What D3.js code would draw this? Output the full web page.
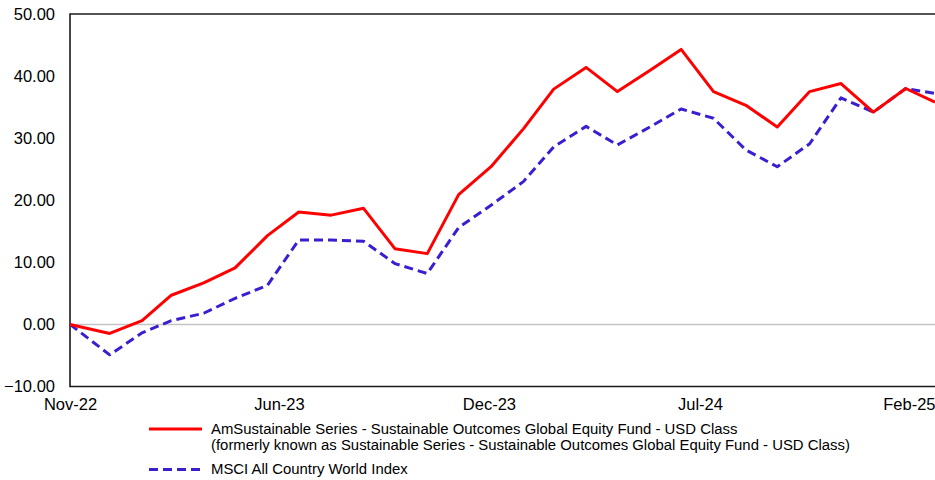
<!DOCTYPE html>
<html>
<head>
<meta charset="utf-8">
<script src="https://cdn.jsdelivr.net/npm/d3@7"></script>
<style>
  body { margin: 0; background: #fff; }
  svg { display: block; font-family: "Liberation Sans", Arial, sans-serif; }
</style>
</head>
<body>
<div id="chart"></div>
<script>
// Inception date, then month-end dates
const dates = [
  '2022-11-23', '2022-12-31', '2023-01-31', '2023-02-28', '2023-03-31', '2023-04-30',
  '2023-05-31', '2023-06-30', '2023-07-31', '2023-08-31', '2023-09-30', '2023-10-31',
  '2023-11-30', '2023-12-31', '2024-01-31', '2024-02-29', '2024-03-31', '2024-04-30',
  '2024-05-31', '2024-06-30', '2024-07-31', '2024-08-31', '2024-09-30', '2024-10-31',
  '2024-11-30', '2024-12-31', '2025-01-31', '2025-02-28'
];

// Cumulative performance (%)
const fundValues = [
  0, -1.45, 0.6, 4.7, 6.7, 9.1, 14.3, 18.1, 17.6, 18.7, 12.2, 11.4, 20.9, 25.4,
  31.5, 37.9, 41.4, 37.5, 40.9, 44.3, 37.5, 35.3, 31.8, 37.5, 38.8, 34.2, 38.0, 35.8
];
const indexValues = [
  0, -4.9, -1.35, 0.6, 1.8, 4.2, 6.3, 13.6, 13.6, 13.4, 9.8, 8.2, 15.6, 19.2,
  23.0, 28.6, 31.9, 28.9, 31.8, 34.7, 33.2, 28.1, 25.4, 29.1, 36.5, 34.2, 38.0, 37.2
];

const yTicks = [-10, 0, 10, 20, 30, 40, 50];
const xTickDates = ['2022-11-23', '2023-06-11', '2023-12-29', '2024-07-18', '2025-02-03'];

const fundLabel = [
  'AmSustainable Series - Sustainable Outcomes Global Equity Fund - USD Class',
  '(formerly known as Sustainable Series - Sustainable Outcomes Global Equity Fund - USD Class)'
];
const indexLabel = 'MSCI All Country World Index';

const width = 935, height = 480;
const margin = { top: 14, right: 0, bottom: 94, left: 70 };

const parseDate = d3.timeParse('%Y-%m-%d');
const formatTick = d3.timeFormat('%b-%y');

const svg = d3.select('#chart')
  .append('svg')
  .attr('width', width)
  .attr('height', height);

const x = d3.scaleTime()
  .domain([parseDate(dates[0]), parseDate(dates[dates.length - 1])])
  .range([margin.left, width - margin.right]);

const y = d3.scaleLinear()
  .domain([-10, 50])
  .range([height - margin.bottom + 0.5, margin.top]);

// zero line
svg.append('line')
  .attr('x1', margin.left).attr('x2', width)
  .attr('y1', y(0)).attr('y2', y(0))
  .attr('stroke', '#c4c4c4')
  .attr('stroke-width', 1.5);

// y axis labels
const yAxis = d3.axisLeft(y)
  .tickValues(yTicks)
  .tickFormat(d3.format('.2f'))
  .tickSize(0)
  .tickPadding(15);

svg.append('g')
  .attr('transform', `translate(${margin.left},0)`)
  .call(yAxis)
  .call(g => g.select('.domain').remove())
  .selectAll('text')
  .attr('font-size', 16.5)
  .attr('font-family', '"Liberation Sans", Arial, sans-serif')
  .attr('fill', '#000');

// x axis labels
const xAxis = d3.axisBottom(x)
  .tickValues(xTickDates.map(parseDate))
  .tickFormat(formatTick)
  .tickSize(0)
  .tickPadding(12);

svg.append('g')
  .attr('transform', `translate(0,${y(-10)})`)
  .call(xAxis)
  .call(g => g.select('.domain').remove())
  .selectAll('text')
  .attr('font-size', 16.5)
  .attr('font-family', '"Liberation Sans", Arial, sans-serif')
  .attr('fill', '#000');

// frame: left, top, bottom
svg.append('path')
  .attr('d', `M${width},${y(50)}H${margin.left}V${y(-10)}H${width}`)
  .attr('fill', 'none')
  .attr('stroke', '#1a1a1a')
  .attr('stroke-width', 1.6);

const line = d3.line()
  .x((d, i) => x(parseDate(dates[i])))
  .y(d => y(d));

svg.append('path')
  .datum(indexValues)
  .attr('d', line)
  .attr('fill', 'none')
  .attr('stroke', '#3a1fd0')
  .attr('stroke-width', 3)
  .attr('stroke-dasharray', '9,5')
  .attr('stroke-linejoin', 'round');

svg.append('path')
  .datum(fundValues)
  .attr('d', line)
  .attr('fill', 'none')
  .attr('stroke', '#ff0000')
  .attr('stroke-width', 3)
  .attr('stroke-linejoin', 'round');

// legend
const legend = svg.append('g')
  .attr('font-size', 14.9)
  .attr('fill', '#000');

legend.append('line')
  .attr('x1', 149).attr('x2', 202)
  .attr('y1', 429).attr('y2', 429)
  .attr('stroke', '#ff0000')
  .attr('stroke-width', 3);

legend.selectAll('text.fund')
  .data(fundLabel)
  .enter()
  .append('text')
  .attr('class', 'fund')
  .attr('x', 211)
  .attr('y', (d, i) => 433.5 + i * 16.7)
  .text(d => d);

legend.append('line')
  .attr('x1', 149).attr('x2', 202)
  .attr('y1', 469.5).attr('y2', 469.5)
  .attr('stroke', '#3a1fd0')
  .attr('stroke-width', 3)
  .attr('stroke-dasharray', '9,5');

legend.append('text')
  .attr('x', 211)
  .attr('y', 474)
  .text(indexLabel);
</script>
</body>
</html>
